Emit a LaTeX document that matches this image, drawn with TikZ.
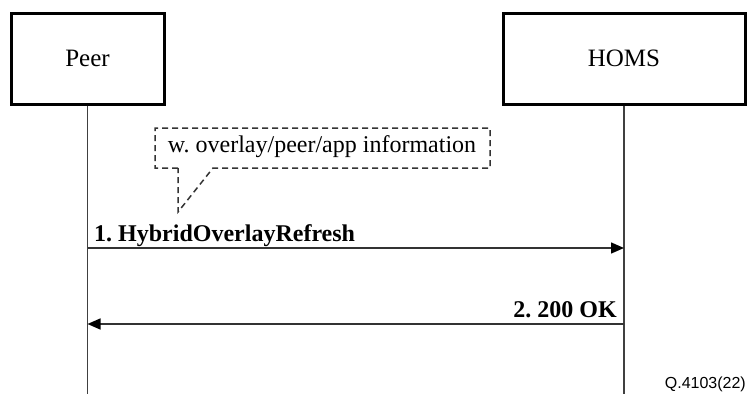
\documentclass[tikz,border=0pt]{standalone}
\usepackage{fontspec}
\setmainfont{Liberation Serif}
\newfontfamily\tagfont{Liberation Sans}
\usetikzlibrary{arrows.meta}
\tikzset{
	entity/.style={draw, line width=3pt, minimum width=#1, minimum height=91pt, inner sep=0pt, font=\fontsize{25}{29}\selectfont},
	lifeline/.style={line width=1.3pt, color=black!75},
	msg/.style={line width=1.5pt, color=black!80, -{Triangle[length=13pt, width=11pt, color=black]}},
	msglabel/.style={inner sep=0pt, font=\fontsize{24}{28}\selectfont\bfseries},
	note/.style={dashed, dash pattern=on 6pt off 4pt, line width=1.5pt, color=black!80}
}
\frenchspacing
\begin{document}
\begin{tikzpicture}[x=1pt, y=-1pt]
		%%%%% START %%%%%
		\useasboundingbox (0,0) rectangle (748,394);
		
		\node[entity=153pt] (peer) at (87.5, 58.5) {Peer};
		\node[entity=242pt] (homs) at (624, 58.5) {HOMS};
		
		\coordinate (peerEnd) at (87.5, 394);
		\coordinate (homsEnd) at (624, 394);
		\draw[lifeline] (peer.south) -- (peerEnd);
		\draw[lifeline] (homs.south) -- (homsEnd);
		
		% note with pointer
		\coordinate (noteTip) at (178, 212);
		\draw[note] (178, 168) -- (155, 168) -- (155, 128) -- (490, 128) -- (490, 168) -- (213, 168) -- (noteTip) -- cycle;
		\node[font=\fontsize{24}{28}\selectfont, inner sep=0pt] (noteText) at (322, 147) {w. overlay/peer/app information};
		
		% messages
		\coordinate (m1a) at (87.5, 248);
		\coordinate (m1b) at (624, 248);
		\draw[msg] (m1a) -- (m1b);
		\node[msglabel, anchor=base west] (m1) at (94, 241) {1. HybridOverlayRefresh};
		
		\coordinate (m2a) at (624, 324);
		\coordinate (m2b) at (87.5, 324);
		\draw[msg] (m2a) -- (m2b);
		\node[msglabel, anchor=base east] (m2) at (617, 317) {2. 200 OK};
		
		\node[font=\tagfont\fontsize{16}{19}\selectfont, anchor=base east, inner sep=0pt] (tag) at (746, 388) {Q.4103(22)};
		
		%%%%% END %%%%%
	\end{tikzpicture}
\end{document}
